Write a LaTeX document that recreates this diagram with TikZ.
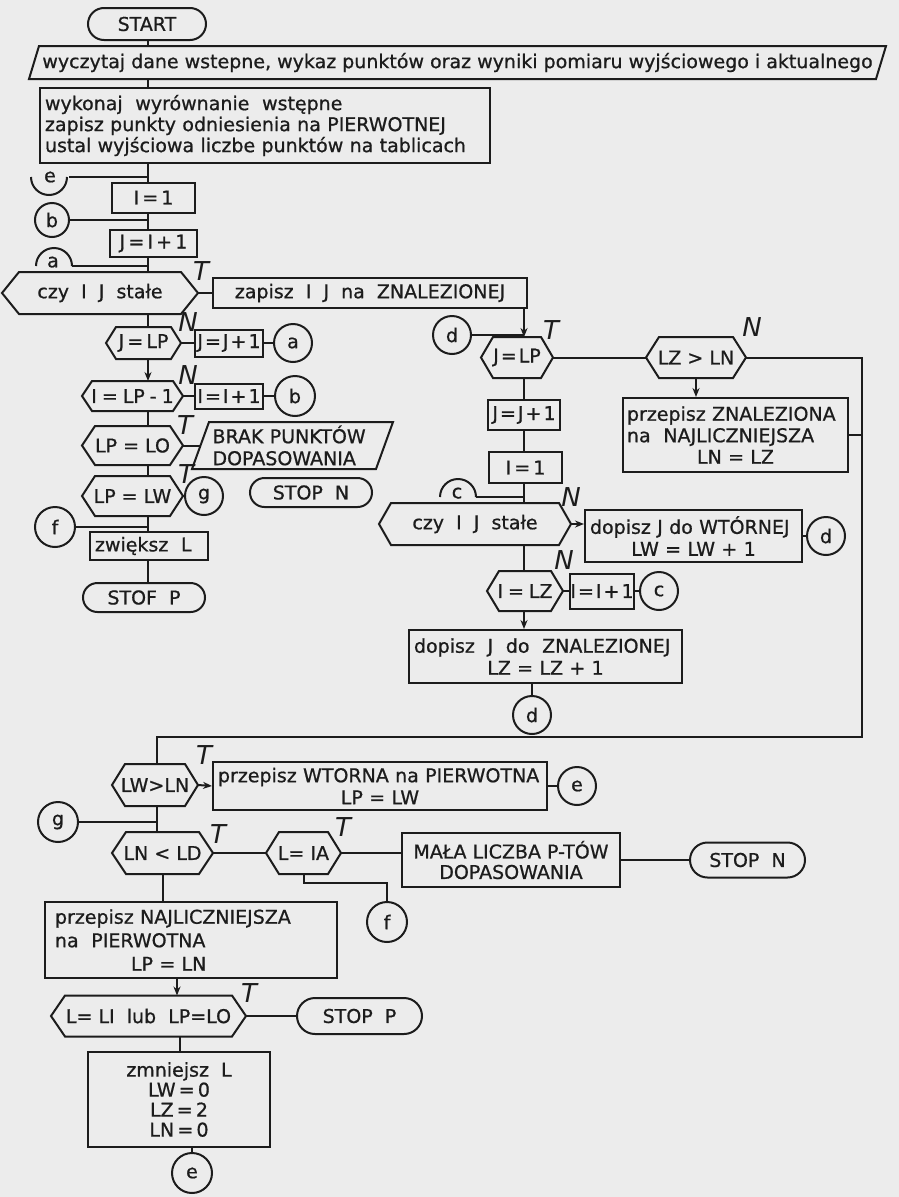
\documentclass[tikz,border=0pt]{standalone}
\usepackage{fontspec}
\setmainfont{DejaVu Sans}[FakeBold=0.8]
\newfontfamily\lblfont{DejaVu Sans}
\usetikzlibrary{shapes.misc,arrows.meta,calc}
\definecolor{bg}{HTML}{ECECEC}
\definecolor{ink}{HTML}{1C1C1C}
\newcommand{\kk}{\hspace{5pt}}
\newcommand{\tg}{\hspace{2pt}}
\begin{document}
\begin{tikzpicture}[x=1pt,y=-1pt,line width=2pt,draw=ink,text=ink,
  font=\fontsize{19}{22}\selectfont,
  >={Stealth[length=9pt,width=7pt]},
  plain/.style={rectangle,inner sep=0pt},
  box/.style={draw,rectangle,inner sep=0pt},
  term/.style={draw,rounded rectangle,inner sep=0pt},
  circ/.style={draw,circle,inner sep=0pt,minimum size=38pt},
  half/.style={circle,inner sep=0pt,minimum size=36pt},
  lbl/.style={inner sep=0pt,font=\lblfont\itshape\fontsize{26}{26}\selectfont}]
\useasboundingbox (0,0) rectangle (899,1197);
\fill[bg] (0,0) rectangle (899,1197);
\coordinate (colA) at (148,0);
\coordinate (colB) at (524,0);
\coordinate (colC) at (157,0);
\coordinate (colD) at (177,0);
\coordinate (colE) at (180,0);
\coordinate (rb) at (862,737);
% ---------- upper left ----------
\node[term,minimum width=118pt,minimum height=32pt] (start) at (147,24) {START};
\node[plain,minimum width=855pt,minimum height=31pt] (read) at (457.5,62.5) {wyczytaj dane wstepne, wykaz punktów oraz wyniki pomiaru wyjściowego i aktualnego};
\node[box,minimum width=450pt,minimum height=75pt,text width=440pt,align=left,font=\fontsize{19}{21}\selectfont] (init) at (265,125.5) {wykonaj~~wyrównanie~~wstępne\\zapisz punkty odniesienia na PIERWOTNEJ\\ustal wyjściowa liczbe punktów na tablicach};
\node[half] (eA) at (50,177) {\raisebox{-6pt}{e}};
\node[box,minimum width=83pt,minimum height=30pt] (i1) at (153.5,197.5) {I\,=\,1};
\node[circ,minimum size=34pt] (b1) at (52,220) {b};
\node[box,minimum width=87pt,minimum height=27pt] (ji) at (153.5,243.5) {J\,=\,I\,+\,1};
\node[half,minimum size=36pt] (a1) at (53,266) {\raisebox{8pt}{a}};
\node[plain,minimum width=194pt,minimum height=40pt] (dA) at (100,293) {czy~~I~~J~~stałe};
\node[lbl] (t1) at (201,271) {T};
\node[box,minimum width=314pt,minimum height=30pt] (zap) at (370,293) {zapisz~~I~~J~~na~~ZNALEZIONEJ};
\node[plain,minimum width=73pt,minimum height=30pt] (dB) at (143.5,343) {J\,=\,LP};
\node[lbl] (n1) at (188,322) {N};
\node[box,minimum width=68pt,minimum height=27pt] (jj1) at (229,343) {J\tg=\tg J\tg+\tg1};
\node[circ] (a2) at (293,343) {a};
\node[plain,minimum width=99pt,minimum height=28pt] (dC) at (132.5,396) {I\kk=\kk LP\kk-\kk1};
\node[lbl] (n2) at (188,375) {N};
\node[box,minimum width=68pt,minimum height=25pt] (ii1) at (229,396) {I\tg=\tg I\tg+\tg1};
\node[circ,minimum size=40pt] (b2) at (295,396) {b};
\node[plain,minimum width=99pt,minimum height=37pt] (dD) at (132.5,445.5) {LP = LO};
\node[lbl] (t2) at (185,425) {T};
\node[plain,minimum width=199pt,minimum height=45pt,text width=160pt,align=left] (para2) at (292.5,445.5) {BRAK PUNKTÓW\\DOPASOWANIA};
\node[plain,minimum width=99pt,minimum height=38pt] (dE) at (132.5,496) {LP = LW};
\node[lbl] (t3) at (186,474) {T};
\node[circ] (g1) at (204,496) {g};
\node[term,minimum width=122pt,minimum height=29pt] (stopn1) at (311,492.5) {STOP~~N};
\node[circ,minimum size=40pt] (f1) at (55,527) {f};
\node[box,minimum width=118pt,minimum height=28pt,text width=108pt,align=left] (zw) at (149,546) {zwiększ~~L};
\node[term,minimum width=122pt,minimum height=29pt] (stofp) at (144,597.5) {STOF~~P};
% ---------- right column ----------
\node[circ] (dR) at (452,335) {d};
\node[plain,minimum width=70pt,minimum height=39pt] (dF) at (517,357.5) {J\tg=\tg LP};
\node[lbl] (t4) at (551,330) {T};
\node[plain,minimum width=98pt,minimum height=39pt] (dG) at (696,357.5) {LZ > LN};
\node[lbl] (n3) at (752,327) {N};
\node[box,minimum width=225pt,minimum height=74pt,text width=217pt,align=left,font=\fontsize{19}{21.5}\selectfont] (zna) at (735.5,435) {przepisz ZNALEZIONA\\na~~NAJLICZNIEJSZA\\\makebox[\linewidth]{LN = LZ}};
\node[box,minimum width=72pt,minimum height=30pt] (jj2) at (524,415) {J\tg=\tg J\tg+\tg1};
\node[box,minimum width=73pt,minimum height=31pt] (i2) at (525.5,467.5) {I\,=\,1};
\node[half] (c1) at (457,497) {\raisebox{8pt}{c}};
\node[plain,minimum width=190pt,minimum height=40pt] (dH) at (475,524) {czy~~I~~J~~stałe};
\node[lbl] (n4) at (571,497) {N};
\node[box,minimum width=217pt,minimum height=52pt,text width=207pt,align=left] (wt) at (693.5,536) {dopisz J do WTÓRNEJ\\\makebox[\linewidth]{LW = LW + 1}};
\node[circ] (dW) at (826,536) {d};
\node[plain,minimum width=74pt,minimum height=38pt] (dI) at (525,591) {I\kk=\kk LZ};
\node[lbl] (n5) at (564,560) {N};
\node[box,minimum width=64pt,minimum height=35pt] (ii2) at (602,591) {I\tg=\tg I\tg+\tg1};
\node[circ] (cR) at (659,591) {c};
\node[box,minimum width=273pt,minimum height=53pt,text width=263pt,align=left] (zn) at (545.5,656.5) {dopisz~~J~~do~~ZNALEZIONEJ\\\makebox[\linewidth]{LZ = LZ + 1}};
\node[circ] (dB2) at (532,715) {d};
% ---------- lower part ----------
\node[plain,minimum width=84pt,minimum height=40pt] (dL) at (155,785) {LW>LN};
\node[lbl] (t5) at (204,755) {T};
\node[box,minimum width=334pt,minimum height=48pt,text width=324pt,align=left] (wp) at (380,786) {przepisz WTORNA na PIERWOTNA\\\makebox[\linewidth]{LP = LW}};
\node[circ] (eR) at (577,786) {e};
\node[circ,minimum size=40pt] (g2) at (58,822) {g};
\node[plain,minimum width=99pt,minimum height=40pt] (dM) at (162.5,853) {LN < LD};
\node[lbl] (t6) at (218,834) {T};
\node[plain,minimum width=73pt,minimum height=40pt] (dN) at (303.5,853) {L= IA};
\node[lbl] (t7) at (343,827) {T};
\node[box,minimum width=218pt,minimum height=54pt,align=center,font=\fontsize{19}{20.5}\selectfont] (ma) at (511,860) {MAŁA LICZBA P-TÓW\\DOPASOWANIA};
\node[term,minimum width=115pt,minimum height=35pt] (stopn2) at (747.5,860) {STOP~~N};
\node[circ,minimum size=40pt] (f2) at (387,922) {f};
\node[box,minimum width=292pt,minimum height=76pt,text width=272pt,align=left,font=\fontsize{19}{23.5}\selectfont] (nj) at (191,940) {przepisz NAJLICZNIEJSZA\\na~~PIERWOTNA\\\hspace*{76pt}LP = LN};
\node[plain,minimum width=193pt,minimum height=39pt] (dO) at (148.5,1016) {L=~LI~~lub~~LP=LO};
\node[lbl] (t8) at (249,993) {T};
\node[term,minimum width=125pt,minimum height=36pt] (stopp2) at (359.5,1016) {STOP~~P};
\node[box,minimum width=182pt,minimum height=95pt,align=center,font=\fontsize{19}{20}\selectfont] (zm) at (179,1099.5) {zmniejsz~~L\\LW\,=\,0\\LZ\,=\,2\\LN\,=\,0};
\node[circ,minimum size=40pt] (e2) at (192,1173) {e};
% ---------- hexagon and parallelogram outlines ----------
\foreach \n/\s in {dA/17,dB/10,dC/10,dD/13,dE/13,dF/12,dG/13,dH/12,dI/12,dL/13,dM/14,dN/13,dO/14}
  \draw (\n.west) -- ([xshift=\s pt]\n.north west) -- ([xshift=-\s pt]\n.north east) -- (\n.east) -- ([xshift=-\s pt]\n.south east) -- ([xshift=\s pt]\n.south west) -- cycle;
\draw ([xshift=10pt]read.north west) -- (read.north east) -- ([xshift=-10pt]read.south east) -- (read.south west) -- cycle;
\draw ([xshift=17pt]para2.north west) -- (para2.north east) -- ([xshift=-17pt]para2.south east) -- (para2.south west) -- cycle;
\draw (eA.west) arc[start angle=180,end angle=360,radius=18pt];
\draw (a1.east) arc[start angle=0,end angle=180,radius=18pt];
\draw (c1.east) arc[start angle=0,end angle=180,radius=18pt];
% ---------- connectors, left column ----------
\draw (start.south -| colA) -- (read.north -| colA);
\draw (read.south -| colA) -- (init.north -| colA);
\draw (init.south -| colA) -- (i1.north -| colA);
\draw (eA.east) -- (eA.east -| colA);
\draw (i1.south -| colA) -- (ji.north -| colA);
\draw (b1.east) -- (b1.east -| colA);
\draw (ji.south -| colA) -- (dA.north -| colA);
\draw (a1.east) -- (a1.east -| colA);
\draw (dA.east) -- (zap.west);
\draw (dA.south -| colA) -- (dB.north -| colA);
\draw (dB.east) -- (jj1.west);
\draw (jj1.east) -- (a2.west);
\draw[->] (dB.south -| colA) -- (dC.north -| colA);
\draw (dC.east) -- (ii1.west);
\draw (ii1.east) -- (b2.west);
\draw (dC.south -| colA) -- (dD.north -| colA);
\draw (dD.east) -- ([xshift=8.5pt]para2.west);
\draw (dD.south -| colA) -- (dE.north -| colA);
\draw (dE.east) -- (g1.west);
\draw (dE.south -| colA) -- (zw.north -| colA);
\draw (f1.east) -- (f1.east -| colA);
\draw (zw.south -| colA) -- (stofp.north -| colA);
% ---------- connectors, right column ----------
\draw[->] (zap.south -| colB) -- (dF.north -| colB);
\draw (dR.east) -- (dR.east -| colB);
\draw (dF.east) -- (dG.west);
\draw (dG.east) -| (rb) -- (rb -| colC) -- (dL.north -| colC);
\draw[->] (dG.south) -- (dG.south |- zna.north);
\draw (zna.east) -- (zna.east -| rb);
\draw (dF.south -| colB) -- (jj2.north -| colB);
\draw (jj2.south -| colB) -- (i2.north -| colB);
\draw (i2.south -| colB) -- (dH.north -| colB);
\draw (c1.east) -- (c1.east -| colB);
\draw[->] (dH.east) -- (dH.east -| wt.west);
\draw (wt.east) -- (dW.west);
\draw (dH.south -| colB) -- (dI.north -| colB);
\draw (dI.east) -- (ii2.west);
\draw (ii2.east) -- (cR.west);
\draw[->] (dI.south -| colB) -- (zn.north -| colB);
\draw (dB2.north |- zn.south) -- (dB2.north);
% ---------- connectors, lower part ----------
\draw[->] (dL.east) -- (wp.west);
\draw (wp.east) -- (eR.west);
\draw (dL.south -| colC) -- (dM.north -| colC);
\draw (g2.east) -- (g2.east -| colC);
\draw (dM.east) -- (dN.west);
\draw (dN.east) -- (dN.east -| ma.west);
\draw (ma.east) -- (stopn2.west);
\draw (dN.south) -- ++(0,9) -| (f2.north);
\draw (dM.south) -- (dM.south |- nj.north);
\draw[->] (nj.south -| colD) -- (dO.north -| colD);
\draw (dO.east) -- (stopp2.west);
\draw (dO.south -| colE) -- (zm.north -| colE);
\draw (e2.north |- zm.south) -- (e2.north);
\end{tikzpicture}
\end{document}
